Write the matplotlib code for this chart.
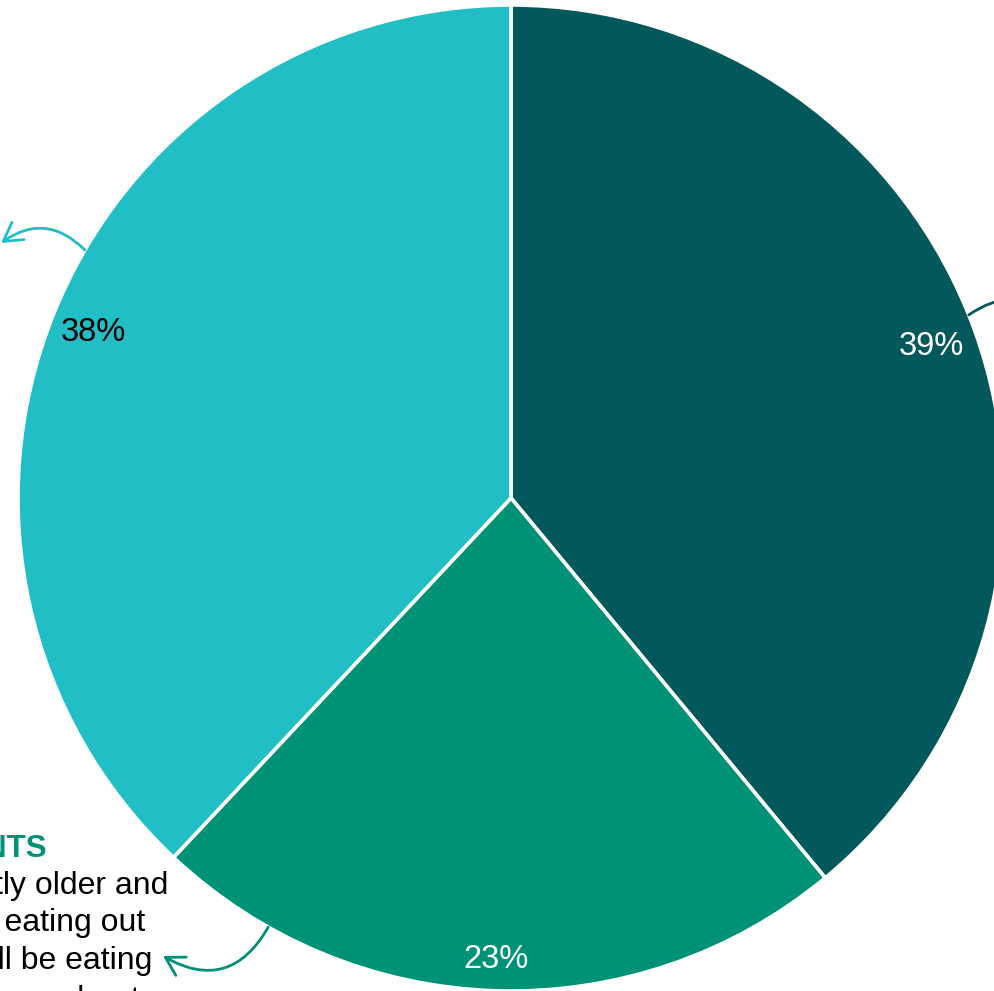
import numpy as np
import matplotlib
matplotlib.use("Agg")
import matplotlib.pyplot as plt

plt.rcParams["font.family"] = ["Liberation Sans", "DejaVu Sans"]

# Segment shares (percent), clockwise from 12 o'clock
segments = ["Segment A", "Students", "Segment C"]
shares = [39, 23, 38]
colors = ["#02585A", "#009277", "#22BEC5"]
label_colors = ["white", "white", "black"]
label_radius = [0.906, 0.937, 0.911]

# Callout text for the students segment
student_title = "STUDENTS"
student_lines = ["They are slightly older and", "enjoy eating out",
                 "and will be eating", "out more about"]

W, H = 994, 991
CX, CY, R = 511, 498, 493  # pie centre / radius in pixels

fig = plt.figure(figsize=(W / 100, H / 100), dpi=100)
ax = fig.add_axes([0, 0, 1, 1])


def px(x, y):
    """Pixel position (from top-left) to data coordinates."""
    return (x - CX) / R, (CY - y) / R


wedges, _ = ax.pie(shares, colors=colors, startangle=90, counterclock=False,
                   radius=1.0, center=(0, 0), frame=True,
                   wedgeprops=dict(edgecolor="white", linewidth=2.6))
ax.set_xlim(-CX / R, (W - CX) / R)
ax.set_ylim(-(H - CY) / R, CY / R)
ax.axis("off")

# Percentage labels placed along each slice's mid-angle
for w, v, c, r in zip(wedges, shares, label_colors, label_radius):
    mid = np.deg2rad((w.theta1 + w.theta2) / 2)
    ax.text(r * np.cos(mid), r * np.sin(mid), f"{v}%", color=c,
            fontsize=23.5, ha="center", va="center")

# Curved callout arrows leaving the pie edge
arrow_kw = dict(arrowstyle="->,head_length=0.65,head_width=0.38",
                mutation_scale=20, lw=2.0)


def callout(angle_deg, end_px, rad, color):
    a = np.deg2rad(angle_deg)
    start = (np.cos(a), np.sin(a))
    ax.annotate("", xy=px(*end_px), xytext=start, annotation_clip=False,
                arrowprops=dict(color=color, connectionstyle=f"arc3,rad={rad}",
                                shrinkA=0, shrinkB=0, **arrow_kw))


callout(149.8, (1, 243), 0.42, colors[2])
callout(-119.5, (163, 956), -0.5, colors[1])
callout(21.8, (1060, 312), -0.32, colors[0])

# Students callout text
tx, ty = px(47, 857)
ax.text(tx, ty, student_title, color=colors[1], fontsize=22.5,
        fontweight="bold", ha="right", va="baseline")
for line, (ex, by) in zip(student_lines,
                          [(168, 894), (145, 931), (152, 969), (140, 1008)]):
    x, y = px(ex, by)
    ax.text(x, y, line, color="black", fontsize=23, ha="right",
            va="baseline", clip_on=False)

fig.savefig("out.png", dpi=100)
